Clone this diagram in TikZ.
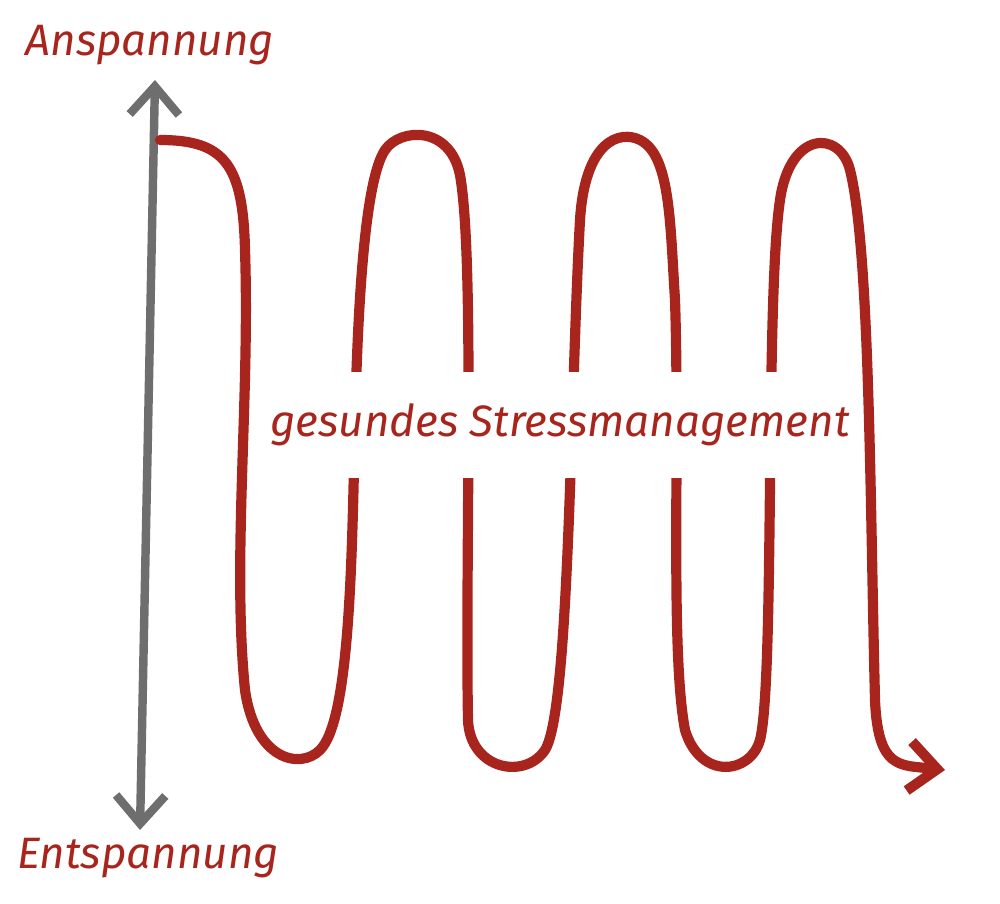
\documentclass[tikz,border=0pt]{standalone}
\usepackage{fontspec}
\setmainfont{Fira Sans}
\usetikzlibrary{arrows.meta}
\definecolor{stressred}{HTML}{A8251E}
\definecolor{axisgray}{HTML}{6E6E6E}
\tikzset{
  label/.style={text=stressred, font=\itshape\fontsize{12.5}{15}\selectfont},
  wave/.style={stressred, line width=2.9pt, line cap=round, line join=round}
}
\begin{document}
\begin{tikzpicture}[x=0.01cm, y=-0.01cm]
        \useasboundingbox (0,0) rectangle (1000,903);
        \node[label] (top) at (150,45) {Anspannung};
        \node[label] (bottom) at (148,858) {Entspannung};
        \coordinate (axtop) at (155,80);
        \coordinate (axbot) at (140,830);
        \draw[axisgray, line width=2.4pt, {Straight Barb[length=8pt,width=14pt]}-{Straight Barb[length=8pt,width=14pt]}] (axtop) -- (axbot);
        \draw[wave, -{Straight Barb[length=8pt,width=14pt]}] (160,140)
          .. controls (225,140) and (243,165) .. (245,250)
          .. controls (250,400) and (232,560) .. (245,690)
          .. controls (255,760) and (300,770) .. (320,750)
          .. controls (350,720) and (352,560) .. (355,420)
          .. controls (358,300) and (365,180) .. (385,150)
          .. controls (400,128) and (450,125) .. (460,175)
          .. controls (475,260) and (465,560) .. (468,720)
          .. controls (470,770) and (525,780) .. (545,750)
          .. controls (570,710) and (570,400) .. (580,220)
          .. controls (585,140) and (620,130) .. (640,140)
          .. controls (670,155) and (670,220) .. (675,300)
          .. controls (680,450) and (670,650) .. (685,730)
          .. controls (700,780) and (750,775) .. (760,740)
          .. controls (775,680) and (765,300) .. (780,200)
          .. controls (790,130) and (840,130) .. (850,170)
          .. controls (870,250) and (870,500) .. (875,700)
          .. controls (878,770) and (900,765) .. (945,770);
        \node[label, fill=white, inner xsep=3pt, inner ysep=9pt] (mid) at (560,425) {gesundes Stressmanagement};
\end{tikzpicture}
\end{document}
